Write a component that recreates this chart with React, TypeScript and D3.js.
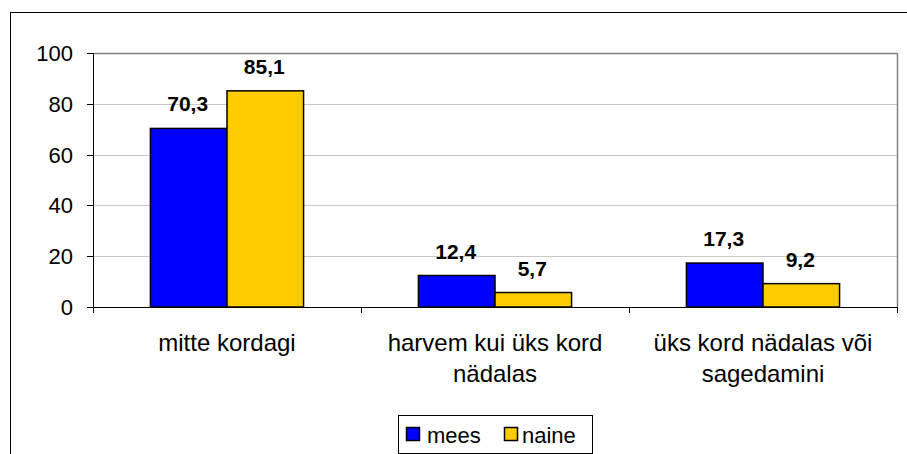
import React from "react";
import * as d3 from "d3";

const categories: string[][] = [
  ["mitte kordagi"],
  ["harvem kui üks kord", "nädalas"],
  ["üks kord nädalas või", "sagedamini"],
];
const seriesNames = ["mees", "naine"];
const seriesColors = ["#0000FF", "#FFCC00"];
const mees = [70.3, 12.4, 17.3];
const naine = [85.1, 5.7, 9.2];
const yTicks = [0, 20, 40, 60, 80, 100];

const W = 907;
const H = 454;
const FONT = "'Liberation Sans', Arial, sans-serif";

export default function App() {
  const left = 93, right = 897, top = 53, bottom = 307;
  const y = d3.scaleLinear().domain([0, 100]).range([bottom, top]);
  const x0 = d3.scaleBand().domain(categories.map((_, i) => String(i))).range([left, right]).paddingInner(0).paddingOuter(0);
  const bw = x0.bandwidth();
  const barW = bw / 3.5;
  const x1 = d3.scaleBand().domain(seriesNames).range([bw / 2 - barW, bw / 2 + barW]);
  const series = [mees, naine];
  const fmt = (v: number) => v.toFixed(1).replace(".", ",");
  const legendSwatchX = [406, 504];
  const legendTextX = [427, 522];

  return (
    <svg width={W} height={H} style={{ position: "absolute", left: 0, top: 0, fontFamily: FONT }}>
      <rect x={0} y={0} width={W} height={H} fill="#fff" />
      {/* outer chart border */}
      <rect x={10.5} y={12.5} width={W} height={H} fill="none" stroke="#000" strokeWidth={1} />
      {/* gridlines */}
      {yTicks.filter(t => t > 0 && t < 100).map(t => (
        <line key={t} x1={left} x2={right} y1={Math.round(y(t)) + 0.5} y2={Math.round(y(t)) + 0.5} stroke="#C8C8C8" strokeWidth={1} />
      ))}
      {/* plot area border top/right */}
      <line x1={left} x2={right} y1={top + 0.5} y2={top + 0.5} stroke="#808080" strokeWidth={1.5} />
      <line x1={right + 0.5} x2={right + 0.5} y1={top} y2={bottom} stroke="#808080" strokeWidth={1.5} />
      {/* bars */}
      {series.map((vals, si) =>
        vals.map((v, ci) => {
          const bx = (x0(String(ci)) as number) + (x1(seriesNames[si]) as number);
          return (
            <rect key={`${si}-${ci}`} x={bx} y={y(v)} width={barW} height={bottom - y(v)}
              fill={seriesColors[si]} stroke="#000" strokeWidth={1.5} />
          );
        })
      )}
      {/* data labels */}
      {series.map((vals, si) =>
        vals.map((v, ci) => {
          const cx = (x0(String(ci)) as number) + (x1(seriesNames[si]) as number) + barW / 2;
          return (
            <text key={`l${si}-${ci}`} x={cx - 1} y={y(v) - 17} textAnchor="middle" fontWeight="bold" fontSize={21} fill="#000">
              {fmt(v)}
            </text>
          );
        })
      )}
      {/* y axis */}
      <line x1={left + 0.5} x2={left + 0.5} y1={top} y2={bottom} stroke="#000" strokeWidth={1} />
      {yTicks.map(t => (
        <g key={t}>
          <line x1={left - 6} x2={left} y1={Math.round(y(t)) + 0.5} y2={Math.round(y(t)) + 0.5} stroke="#000" />
          <text x={left - 20} y={y(t) + 8} textAnchor="end" fontSize={22} fill="#000">{t}</text>
        </g>
      ))}
      {/* x axis */}
      <line x1={left} x2={right} y1={bottom + 0.5} y2={bottom + 0.5} stroke="#000" strokeWidth={1} />
      {[0, 1, 2, 3].map(i => {
        const xx = Math.round(left + i * bw) + 0.5;
        return <line key={i} x1={xx} x2={xx} y1={bottom} y2={bottom + 6} stroke="#000" />;
      })}
      {categories.map((lines, ci) => (
        <text key={ci} textAnchor="middle" fontSize={24} fill="#000">
          {lines.map((ln, li) => (
            <tspan key={li} x={(x0(String(ci)) as number) + bw / 2} y={351 + li * 31}>{ln}</tspan>
          ))}
        </text>
      ))}
      {/* legend */}
      <rect x={398.5} y={415.5} width={194} height={38} fill="#fff" stroke="#000" strokeWidth={1} />
      {seriesNames.map((n, i) => (
        <g key={n}>
          <rect x={legendSwatchX[i] + 0.5} y={427.5} width={13} height={13} fill={seriesColors[i]} stroke="#000" strokeWidth={1.5} />
          <text x={legendTextX[i]} y={443} fontSize={22} fill="#000">{n}</text>
        </g>
      ))}
    </svg>
  );
}
